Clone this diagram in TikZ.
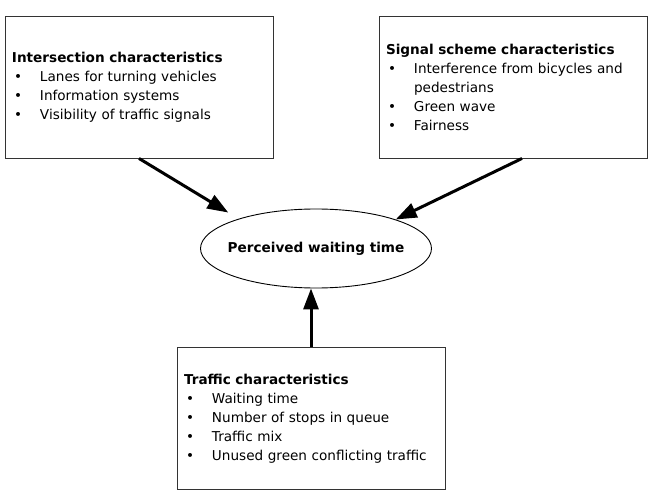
\documentclass[tikz,border=0pt]{standalone}
\usepackage{fontspec}
\setmainfont{DejaVu Sans}
\usepackage{tikz}
\usetikzlibrary{
    arrows.meta,
    positioning,
    shapes.geometric
}
\newcommand{\bulitem}[1]{\makebox[28pt][l]{\hspace{2pt}\textbullet}#1}

\begin{document}
\begin{tikzpicture}[
    x=1pt,y=-1pt,
    charbox/.style={
        draw=black!80,
        line width=0.9pt,
        rectangle,
        minimum height=142pt,
        text width=254pt,
        inner sep=7pt,
        align=left,
        font=\fontsize{13.6}{19}\selectfont
    },
    perceived/.style={
        draw,
        line width=0.9pt,
        ellipse,
        minimum width=231pt,
        minimum height=79pt,
        inner sep=0pt,
        font=\fontsize{13.6}{16}\selectfont\bfseries
    },
    influence/.style={
        -{Triangle[length=21pt,width=15pt]},
        line width=3pt
    }
]
%
    \useasboundingbox (0,0) rectangle (661,494);
%
    \node[
        charbox
    ]
    (intbox) at (139,87) {
        \textbf{Intersection characteristics}\\
        \bulitem{Lanes for turning vehicles}\\
        \bulitem{Information systems}\\
        \bulitem{Visibility of traffic signals}
    };
%
    \node[
        charbox
    ]
    (sigbox) at (513,87) {
        \textbf{Signal scheme characteristics}\\
        \bulitem{Interference from bicycles and}\\
        \hspace*{28pt}pedestrians\\
        \bulitem{Green wave}\\
        \bulitem{Fairness}
    };
%
    \node[
        charbox
    ]
    (trafbox) at (311,418.5) {
        \textbf{Traffic characteristics}\\
        \bulitem{Waiting time}\\
        \bulitem{Number of stops in queue}\\
        \bulitem{Traffic mix}\\
        \bulitem{Unused green conflicting traffic}
    };
%
    \node[
        perceived
    ]
    (perc) at (316,248.5) {
        \makebox[0pt]{Perceived waiting time}
    };
%
    \draw[
        influence,
        shorten >=12pt
    ]
    (intbox.south)
    --
    (perc.159);
%
    \draw[
        influence
    ]
    ([xshift=9pt]sigbox.south)
    --
    (perc.20);
%
    \draw[
        influence
    ]
    (trafbox.north)
    --
    (trafbox.north |- perc.south);
%
\end{tikzpicture}
\end{document}
